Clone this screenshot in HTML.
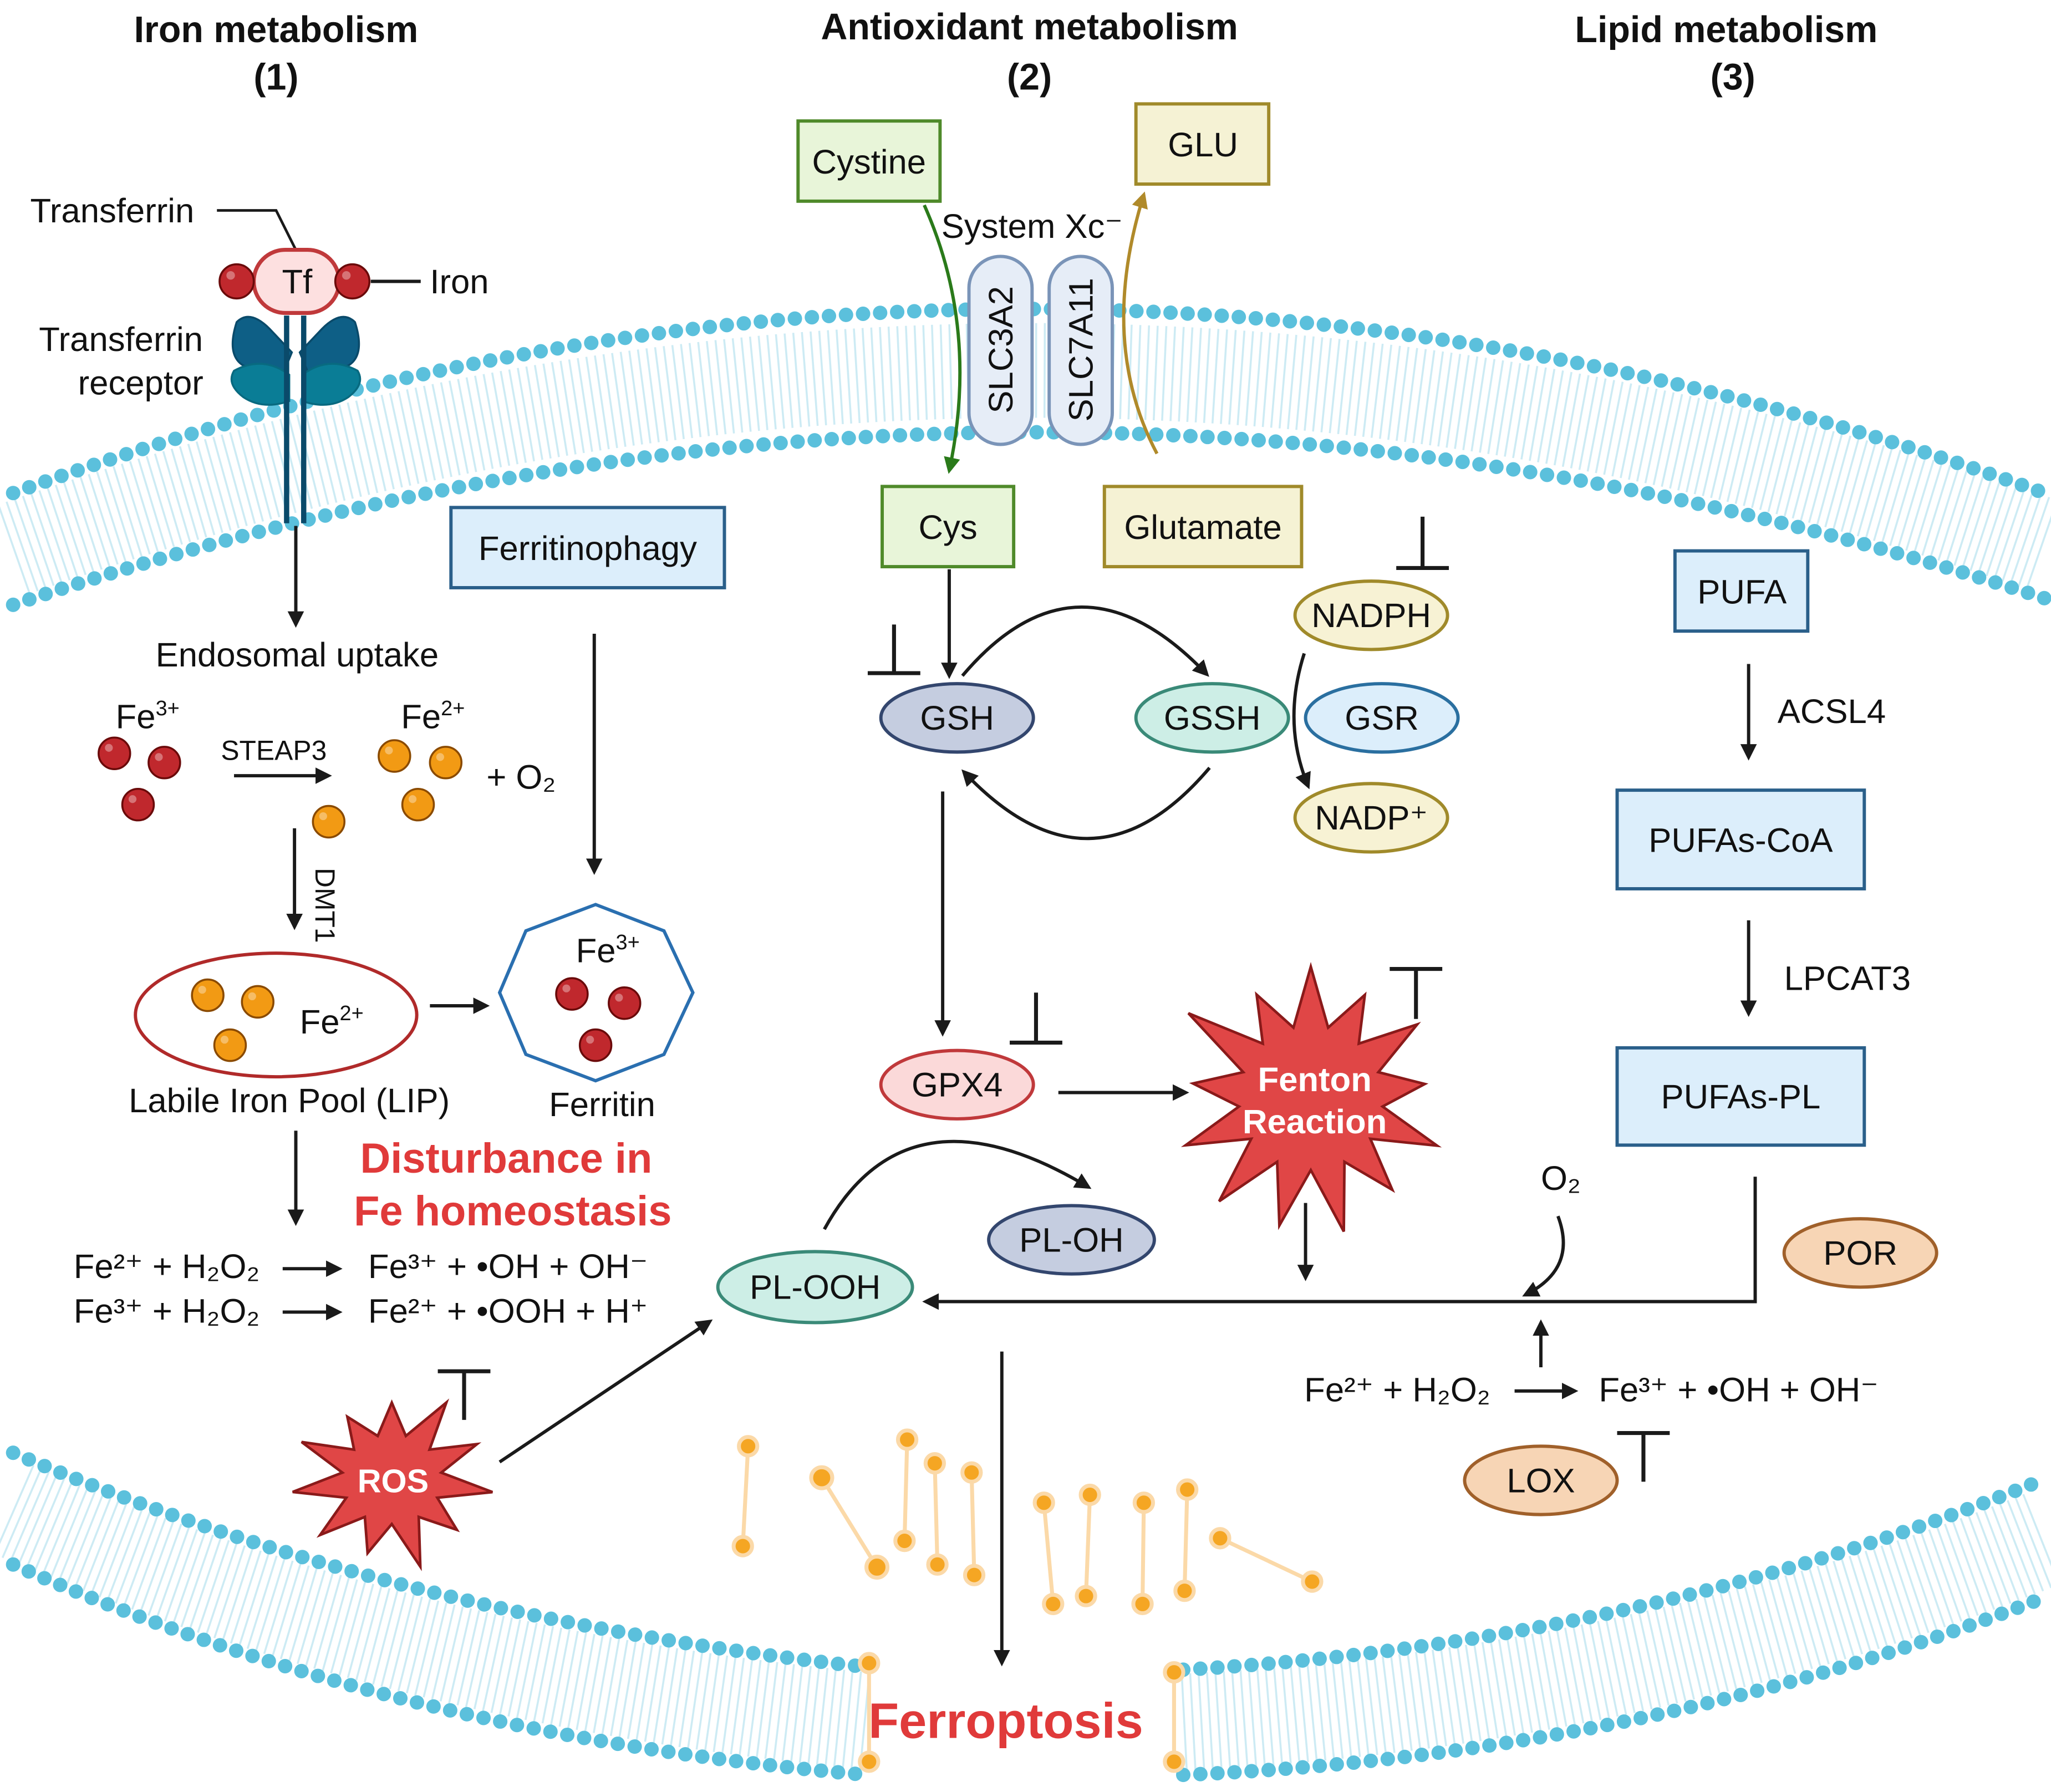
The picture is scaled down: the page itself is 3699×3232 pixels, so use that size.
<!DOCTYPE html>
<html><head><meta charset="utf-8"><style>
html,body{margin:0;padding:0;background:#fff;}
svg{display:block;}
text{font-family:"Liberation Sans",sans-serif;fill:#111;}
</style></head><body>
<svg id="s" width="3699" height="3232" viewBox="0 0 1560 1363" xmlns="http://www.w3.org/2000/svg">
<defs>
<marker id="a" viewBox="0 0 10 10" refX="8" refY="5" markerWidth="5" markerHeight="5" orient="auto"><path d="M0,0L10,5L0,10z" fill="#1a1a1a"/></marker>
<marker id="ag" viewBox="0 0 10 10" refX="8" refY="5" markerWidth="5" markerHeight="5" orient="auto"><path d="M0,0L10,5L0,10z" fill="#2a7a1a"/></marker>
<marker id="ay" viewBox="0 0 10 10" refX="8" refY="5" markerWidth="5" markerHeight="5" orient="auto"><path d="M0,0L10,5L0,10z" fill="#b08a2a"/></marker>
</defs>
<g fill="none">
<path d="M10,418 Q780,147 1555,415" stroke="#cdebf4" stroke-width="72" stroke-dasharray="1.5 5"/>
<path d="M10,375 Q780,95 1555,375" stroke="#5bc0dc" stroke-width="11" stroke-linecap="round" stroke-dasharray="0 13"/>
<path d="M10,460 Q780,200 1555,455" stroke="#5bc0dc" stroke-width="11" stroke-linecap="round" stroke-dasharray="0 13"/>
<path d="M10,1148 Q300,1275 660,1309" stroke="#cdebf4" stroke-width="74" stroke-dasharray="1.5 5"/>
<path d="M10,1105 Q300,1230 660,1268" stroke="#5bc0dc" stroke-width="11" stroke-linecap="round" stroke-dasharray="0 13"/>
<path d="M10,1190 Q300,1320 660,1350" stroke="#5bc0dc" stroke-width="11" stroke-linecap="round" stroke-dasharray="0 13"/>
<path d="M900,1310 Q1250,1292 1555,1170" stroke="#cdebf4" stroke-width="74" stroke-dasharray="1.5 5"/>
<path d="M900,1270 Q1250,1250 1555,1125" stroke="#5bc0dc" stroke-width="11" stroke-linecap="round" stroke-dasharray="0 13"/>
<path d="M900,1350 Q1250,1335 1555,1215" stroke="#5bc0dc" stroke-width="11" stroke-linecap="round" stroke-dasharray="0 13"/>
</g>
<g stroke="#fbd9a8" stroke-width="3" fill="#f5a623">
<line x1="661" y1="1265" x2="661" y2="1340"/><circle cx="661" cy="1265" r="7"/><circle cx="661" cy="1340" r="7"/>
<line x1="893" y1="1272" x2="893" y2="1340"/><circle cx="893" cy="1272" r="7"/><circle cx="893" cy="1340" r="7"/>
<line x1="569" y1="1100" x2="565" y2="1176"/><circle cx="569" cy="1100" r="7"/><circle cx="565" cy="1176" r="7"/>
<line x1="625" y1="1124" x2="667" y2="1192"/><circle cx="625" cy="1124" r="8"/><circle cx="667" cy="1192" r="8"/>
<line x1="690" y1="1095" x2="688" y2="1172"/><circle cx="690" cy="1095" r="7"/><circle cx="688" cy="1172" r="7"/>
<line x1="711" y1="1113" x2="713" y2="1190"/><circle cx="711" cy="1113" r="7"/><circle cx="713" cy="1190" r="7"/>
<line x1="739" y1="1120" x2="741" y2="1198"/><circle cx="739" cy="1120" r="7"/><circle cx="741" cy="1198" r="7"/>
<line x1="794" y1="1143" x2="801" y2="1220"/><circle cx="794" cy="1143" r="7"/><circle cx="801" cy="1220" r="7"/>
<line x1="829" y1="1137" x2="826" y2="1214"/><circle cx="829" cy="1137" r="7"/><circle cx="826" cy="1214" r="7"/>
<line x1="870" y1="1143" x2="869" y2="1220"/><circle cx="870" cy="1143" r="7"/><circle cx="869" cy="1220" r="7"/>
<line x1="903" y1="1133" x2="901" y2="1210"/><circle cx="903" cy="1133" r="7"/><circle cx="901" cy="1210" r="7"/>
<line x1="928" y1="1170" x2="998" y2="1203"/><circle cx="928" cy="1170" r="7"/><circle cx="998" cy="1203" r="7"/>
</g>
<g font-weight="bold" font-size="28" text-anchor="middle">
<text x="210" y="32">Iron metabolism</text><text x="210" y="68">(1)</text>
<text x="783" y="30">Antioxidant metabolism</text><text x="783" y="68">(2)</text>
<text x="1313" y="32">Lipid metabolism</text><text x="1318" y="68">(3)</text>
</g>
<g stroke-width="2.5" font-size="26" text-anchor="middle">
<rect x="607" y="92" width="108" height="61" fill="#e8f5d9" stroke="#4f8a2a"/><text x="661" y="132">Cystine</text>
<rect x="864" y="79" width="101" height="61" fill="#f5f2d4" stroke="#a08a2a"/><text x="915" y="119">GLU</text>
<rect x="671" y="370" width="100" height="61" fill="#e8f5d9" stroke="#4f8a2a"/><text x="721" y="410">Cys</text>
<rect x="840" y="370" width="150" height="61" fill="#f5f2d4" stroke="#a08a2a"/><text x="915" y="410">Glutamate</text>
<rect x="343" y="386" width="208" height="61" fill="#dceefb" stroke="#2a5f8a"/><text x="447" y="426">Ferritinophagy</text>
<rect x="1274" y="419" width="101" height="61" fill="#dceefb" stroke="#2a5f8a"/><text x="1325" y="459">PUFA</text>
<rect x="1230" y="601" width="188" height="75" fill="#dceefb" stroke="#2a5f8a"/><text x="1324" y="648">PUFAs-CoA</text>
<rect x="1230" y="797" width="188" height="74" fill="#dceefb" stroke="#2a5f8a"/><text x="1324" y="843">PUFAs-PL</text>
</g>
<rect x="737" y="195" width="48" height="143" rx="24" fill="#e6edf7" stroke="#7a94b8" stroke-width="2.5"/>
<rect x="798" y="195" width="48" height="143" rx="24" fill="#e6edf7" stroke="#7a94b8" stroke-width="2.5"/>
<text font-size="26" text-anchor="middle" transform="translate(770,266) rotate(-90)">SLC3A2</text>
<text font-size="26" text-anchor="middle" transform="translate(831,266) rotate(-90)">SLC7A11</text>
<text x="785" y="181" font-size="26" text-anchor="middle">System Xc⁻</text>
<path d="M703,156 Q745,250 722,358" fill="none" stroke="#2a7a1a" stroke-width="2.5" marker-end="url(#ag)"/>
<path d="M880,345 Q835,260 870,148" fill="none" stroke="#b08a2a" stroke-width="2.5" marker-end="url(#ay)"/>
<g stroke-width="2.5" font-size="26" text-anchor="middle">
<ellipse cx="1043" cy="468" rx="58" ry="26" fill="#f7f2d4" stroke="#a08a2a"/><text x="1043" y="477">NADPH</text>
<ellipse cx="1043" cy="622" rx="58" ry="26" fill="#f7f2d4" stroke="#a08a2a"/><text x="1043" y="631">NADP⁺</text>
<ellipse cx="1051" cy="546" rx="58" ry="26" fill="#dceefb" stroke="#2a6fa0"/><text x="1051" y="555">GSR</text>
<ellipse cx="922" cy="546" rx="58" ry="26" fill="#cdeee6" stroke="#3a8a78"/><text x="922" y="555">GSSH</text>
<ellipse cx="728" cy="546" rx="58" ry="26" fill="#c5cde0" stroke="#33466e"/><text x="728" y="555">GSH</text>
<ellipse cx="728" cy="825" rx="58" ry="26" fill="#fbd9d9" stroke="#c0393b"/><text x="728" y="834">GPX4</text>
<ellipse cx="815" cy="943" rx="63" ry="26" fill="#c5cde0" stroke="#33466e"/><text x="815" y="952">PL-OH</text>
<ellipse cx="620" cy="979" rx="74" ry="27" fill="#cdeee6" stroke="#3a8a78"/><text x="620" y="988">PL-OOH</text>
<ellipse cx="1415" cy="953" rx="58" ry="26" fill="#f7d5b5" stroke="#a0602a"/><text x="1415" y="962">POR</text>
<ellipse cx="1172" cy="1126" rx="58" ry="26" fill="#f7d5b5" stroke="#a0602a"/><text x="1172" y="1135">LOX</text>
</g>
<g fill="none" stroke="#1a1a1a" stroke-width="2.5" marker-end="url(#a)">
<path d="M1330,505V576"/><path d="M1330,700V771"/>
<path d="M722,433V514"/>
<path d="M732,514Q820,410 918,513"/>
<path d="M920,584Q830,690 733,587"/>
<path d="M992,497Q975,550 995,598"/>
<path d="M717,602V786"/>
<path d="M805,831H902"/>
<path d="M627,935Q690,820 828,903"/>
<path d="M993,915V972"/>
<path d="M1335,895V990H704"/>
<path d="M1185,925Q1200,965 1160,985"/>
<path d="M1172,1040V1006"/>
<path d="M1152,1058H1198"/>
<path d="M762,1028V1265"/>
<path d="M380,1112L540,1005"/>
<path d="M225,400V475"/>
<path d="M178,590H250"/>
<path d="M224,630V705"/>
<path d="M327,765H370"/>
<path d="M452,482V663"/>
<path d="M225,860V930"/>
<path d="M215,965H258"/><path d="M215,998H258"/>
</g>
<g stroke="#1a1a1a" stroke-width="3" fill="none">
<path d="M680,475V512M660,512H700"/>
<path d="M1082,393V432M1062,432H1102"/>
<path d="M788,755V793M768,793H808"/>
<path d="M1057,737H1097M1077,737V775"/>
<path d="M333,1043H373M353,1043V1080"/>
<path d="M1230,1090H1270M1250,1090V1127"/>
</g>
<polygon id="fen" fill="#e04646" stroke="#8a1a1a" stroke-width="2"/>
<polygon id="ros" fill="#e04646" stroke="#8a1a1a" stroke-width="2"/>
<g font-weight="bold" text-anchor="middle">
<text x="1000" y="830" font-size="26" style="fill:#fff">Fenton</text>
<text x="1000" y="862" font-size="26" style="fill:#fff">Reaction</text>
<text x="299" y="1135" font-size="25" style="fill:#fff">ROS</text>
</g>
<g font-size="26">
<text x="1352" y="550">ACSL4</text><text x="1357" y="753">LPCAT3</text>
<text x="1172" y="905">O₂</text>
<text x="992" y="1066">Fe²⁺ + H₂O₂</text>
<text x="1216" y="1066">Fe³⁺ + •OH + OH⁻</text>
</g>
<text x="765" y="1322" font-size="38" font-weight="bold" text-anchor="middle" style="fill:#e03a3a">Ferroptosis</text>
<g font-size="26">
<text x="23" y="169">Transferrin</text>
<text x="327" y="223">Iron</text>
<text x="92" y="267" text-anchor="middle">Transferrin</text>
<text x="107" y="300" text-anchor="middle">receptor</text>
<text x="226" y="507" text-anchor="middle">Endosomal uptake</text>
<text x="88" y="554">Fe<tspan font-size="16" dy="-10">3+</tspan></text>
<text x="305" y="554">Fe<tspan font-size="16" dy="-10">2+</tspan></text>
<text x="168" y="578" font-size="21">STEAP3</text>
<text x="370" y="600">+ O₂</text>
<text x="228" y="786">Fe<tspan font-size="16" dy="-10">2+</tspan></text>
<text x="438" y="732">Fe<tspan font-size="16" dy="-10">3+</tspan></text>
<text x="220" y="846" text-anchor="middle">Labile Iron Pool (LIP)</text>
<text x="458" y="849" text-anchor="middle">Ferritin</text>
<text x="56" y="972">Fe²⁺ + H₂O₂</text><text x="280" y="972">Fe³⁺ + •OH + OH⁻</text>
<text x="56" y="1006">Fe³⁺ + H₂O₂</text><text x="280" y="1006">Fe²⁺ + •OOH + H⁺</text>
</g>
<text font-size="21" transform="translate(240,660) rotate(90)">DMT1</text>
<g font-size="32" font-weight="bold" text-anchor="middle">
<text x="385" y="892" style="fill:#e03a3a">Disturbance in</text>
<text x="390" y="932" style="fill:#e03a3a">Fe homeostasis</text>
</g>
<path d="M165,160H210L225,190" fill="none" stroke="#1a1a1a" stroke-width="2"/>
<path d="M282,214H320" stroke="#1a1a1a" stroke-width="2.5"/>
<g fill="#0e5f86" stroke="#0a4a6a" stroke-width="1.5">
<path d="M180,245 Q190,235 205,250 L222,268 L215,285 L185,278 Q172,270 180,245z"/>
<path d="M270,245 Q260,235 245,250 L228,268 L235,285 L265,278 Q278,270 270,245z"/>
</g>
<g fill="#0a7d96" stroke="#086a80" stroke-width="1.5">
<path d="M178,282 Q200,270 220,285 L220,305 Q200,312 185,302 Q172,292 178,282z"/>
<path d="M272,282 Q250,270 230,285 L230,305 Q250,312 265,302 Q278,292 272,282z"/>
</g>
<path d="M218,240V398M231,240V398" stroke="#0a4a6a" stroke-width="4" fill="none"/>
<rect x="193" y="190" width="65" height="48" rx="24" fill="#fde0e0" stroke="#c0393b" stroke-width="3"/>
<text x="226" y="223" font-size="26" text-anchor="middle">Tf</text>
<g id="balls"></g>
<ellipse cx="210" cy="772" rx="107" ry="47" fill="none" stroke="#b02a2a" stroke-width="2.5"/>
<polygon points="453,688 505,708 527,755 505,802 453,822 400,802 380,755 400,708" fill="none" stroke="#2a6fb0" stroke-width="2.5"/>
</svg>
<script>
function star(id,cx,cy,n,ro,ri,sx,sy,seed){var p=[],r=seed;for(var i=0;i<2*n;i++){var a=Math.PI*i/n-Math.PI/2;r=(r*9301+49297)%233280;var j=0.85+0.3*(r/233280);var R=(i%2?ri:ro*j);p.push((cx+R*Math.cos(a)*sx).toFixed(1)+","+(cy+R*Math.sin(a)*sy).toFixed(1));}document.getElementById(id).setAttribute("points",p.join(" "));}
star("fen",997,835,13,100,55,1.0,1.0,7);
star("ros",298,1125,11,68,38,1.0,0.9,3);
var B=document.getElementById("balls"),ns="http://www.w3.org/2000/svg";
function ball(x,y,r,c,d){var e=document.createElementNS(ns,"circle");e.setAttribute("cx",x);e.setAttribute("cy",y);e.setAttribute("r",r);e.setAttribute("fill",c);e.setAttribute("stroke",d);e.setAttribute("stroke-width",1.5);B.appendChild(e);var h=document.createElementNS(ns,"circle");h.setAttribute("cx",x-r*0.35);h.setAttribute("cy",y-r*0.35);h.setAttribute("r",r*0.25);h.setAttribute("fill","rgba(255,255,255,0.35)");B.appendChild(h);}
var R="#c0282d",RD="#6a0a0a",O="#f29a14",OD="#8a4a00";
ball(180,214,13,R,RD);ball(268,214,13,R,RD);
ball(87,573,12,R,RD);ball(125,580,12,R,RD);ball(105,612,12,R,RD);
ball(300,575,12,O,OD);ball(339,580,12,O,OD);ball(318,612,12,O,OD);ball(250,625,12,O,OD);
ball(158,757,12,O,OD);ball(196,762,12,O,OD);ball(175,795,12,O,OD);
ball(435,756,12,R,RD);ball(475,763,12,R,RD);ball(453,795,12,R,RD);
</script>
</body></html>
